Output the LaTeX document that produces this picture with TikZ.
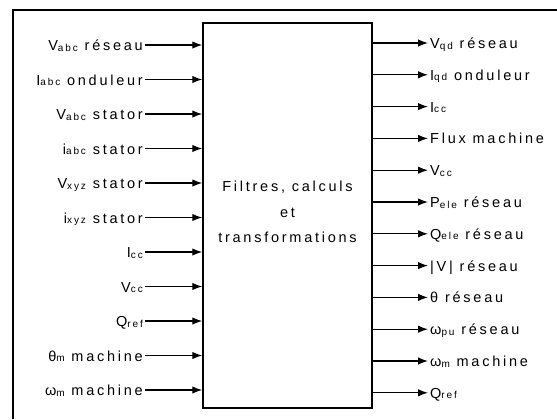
\documentclass[tikz,border=0pt]{standalone}
\usepackage{fontspec}
\setmainfont{Liberation Sans}[LetterSpace=19]
\usepackage{tikz}
\usetikzlibrary{positioning, arrows.meta}
\tikzset{every node/.style={font=\fontsize{14.5bp}{16bp}\selectfont}}
\tikzset{inport/.style={anchor=east, inner xsep=2bp, inner ysep=0pt, text height=11bp, text depth=0pt}}
\tikzset{outport/.style={anchor=west, inner xsep=2bp, inner ysep=0pt, text height=11bp, text depth=0pt}}
\tikzset{sig/.style={-{Latex[length=10bp,width=7.5bp]}, line width=1.3bp}}
\newcommand\sbs[1]{\raisebox{-0.5bp}{\fontsize{10bp}{10bp}\selectfont #1}}

\begin{document}
\begin{tikzpicture}[x=1bp, y=-1bp]
      \useasboundingbox (0,0) rectangle (557,419);
      \draw[line width=2bp] (13,419) -- (13,10) -- (557,10);

      \node[draw, line width=1.5bp, minimum width=169bp, minimum height=385bp, inner sep=0pt] (blk) at (287.5,215.5) {};
      \node[align=center, font=\fontsize{14.5bp}{25.5bp}\selectfont] (txt) at (287.5,212) {Filtres, calculs\\et\\transformations};

      % entrees
      \node[inport] (vabcr) at (145,45) {V\sbs{abc} réseau};
      \node[inport] (iabco) at (145,79.5) {I\sbs{abc} onduleur};
      \node[inport] (vabcs) at (145,114) {V\sbs{abc} stator};
      \node[inport] (iabcs) at (145,148.5) {i\sbs{abc} stator};
      \node[inport] (vxyzs) at (145,183) {V\sbs{xyz} stator};
      \node[inport] (ixyzs) at (145,217.5) {i\sbs{xyz} stator};
      \node[inport] (iccin) at (145,252) {I\sbs{cc}};
      \node[inport] (vccin) at (145,286.5) {V\sbs{cc}};
      \node[inport] (qrefin) at (145,321) {Q\sbs{ref}};
      \node[inport] (thmin) at (145,355.5) {θ\sbs{m} machine};
      \node[inport] (wmin) at (145,390) {ω\sbs{m} machine};

      \draw[sig] (vabcr.east) -- (vabcr -| blk.west);
      \draw[sig] (iabco.east) -- (iabco -| blk.west);
      \draw[sig] (vabcs.east) -- (vabcs -| blk.west);
      \draw[sig] (iabcs.east) -- (iabcs -| blk.west);
      \draw[sig] (vxyzs.east) -- (vxyzs -| blk.west);
      \draw[sig] (ixyzs.east) -- (ixyzs -| blk.west);
      \draw[sig] (iccin.east) -- (iccin -| blk.west);
      \draw[sig] (vccin.east) -- (vccin -| blk.west);
      \draw[sig] (qrefin.east) -- (qrefin -| blk.west);
      \draw[sig] (thmin.east) -- (thmin -| blk.west);
      \draw[sig] (wmin.east) -- (wmin -| blk.west);

      % sorties
      \node[outport] (vqdr) at (428,43) {V\sbs{qd} réseau};
      \node[outport] (iqdo) at (428,74.8) {I\sbs{qd} onduleur};
      \node[outport] (iccout) at (428,106.6) {I\sbs{cc}};
      \node[outport] (fluxm) at (428,138.4) {Flux machine};
      \node[outport] (vccout) at (428,170.2) {V\sbs{cc}};
      \node[outport] (peler) at (428,202) {P\sbs{ele} réseau};
      \node[outport] (qeler) at (428,233.8) {Q\sbs{ele} réseau};
      \node[outport] (modvr) at (428,265.6) {|V| réseau};
      \node[outport] (thr) at (428,297.4) {θ réseau};
      \node[outport] (wpur) at (428,329.2) {ω\sbs{pu} réseau};
      \node[outport] (wmout) at (428,361) {ω\sbs{m} machine};
      \node[outport] (qrefout) at (428,392.8) {Q\sbs{ref}};

      \draw[sig] (vqdr -| blk.east) -- (vqdr.west);
      \draw[sig] (iqdo -| blk.east) -- (iqdo.west);
      \draw[sig] (iccout -| blk.east) -- (iccout.west);
      \draw[sig] (fluxm -| blk.east) -- (fluxm.west);
      \draw[sig] (vccout -| blk.east) -- (vccout.west);
      \draw[sig] (peler -| blk.east) -- (peler.west);
      \draw[sig] (qeler -| blk.east) -- (qeler.west);
      \draw[sig] (modvr -| blk.east) -- (modvr.west);
      \draw[sig] (thr -| blk.east) -- (thr.west);
      \draw[sig] (wpur -| blk.east) -- (wpur.west);
      \draw[sig] (wmout -| blk.east) -- (wmout.west);
      \draw[sig] (qrefout -| blk.east) -- (qrefout.west);

    \end{tikzpicture}
\end{document}
